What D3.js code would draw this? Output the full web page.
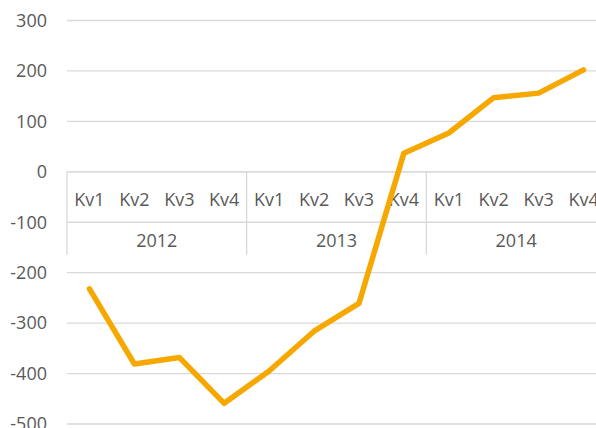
<!DOCTYPE html>
<html>
<head>
<meta charset="utf-8">
<script src="https://cdn.jsdelivr.net/npm/d3@7"></script>
<style>
  body { margin: 0; background: #fff; }
  svg { display: block; }
  text { font-family: "Open Sans", "Liberation Sans", sans-serif; fill: #595959; }
</style>
</head>
<body>
<div id="chart"></div>
<script>
// data
const years = ['2012', '2013', '2014'];
const quarters = ['Kv1', 'Kv2', 'Kv3', 'Kv4'];
const values = [-232, -381, -368, -459, -395, -316, -261, 37, 77, 147, 156, 202];
const yTicks = [300, 200, 100, 0, -100, -200, -300, -400, -500];

const w = 596, h = 428;
const padding = {left: 67, right: -10, top: 20.5, bottom: 4};

const svg = d3.select('#chart').append('svg').attr('width', w).attr('height', h);

// category keys
const cats = [];
years.forEach(y => quarters.forEach(q => cats.push(y + '|' + q)));

let xScale = d3.scaleBand().domain(cats).range([padding.left, w - padding.right]);
let yScale = d3.scaleLinear().domain([-500, 300]).range([h - padding.bottom, padding.top]);

// gridlines
svg.append('g').selectAll('line').data(yTicks).enter().append('line')
  .attr('x1', padding.left).attr('x2', w)
  .attr('y1', d => yScale(d)).attr('y2', d => yScale(d))
  .attr('stroke', '#d9d9d9').attr('stroke-width', 1.3);

// y axis labels (plain hyphen like the original)
let yaxis = d3.axisLeft(yScale).tickValues(yTicks).tickSize(0).tickPadding(20)
  .tickFormat(d => String(d));
let gy = svg.append('g').attr('transform', 'translate(' + padding.left + ',0)').call(yaxis);
gy.select('.domain').remove();
gy.selectAll('text').attr('font-size', 18).attr('fill', '#595959')
  .style('font-family', '"Open Sans", "Liberation Sans", sans-serif');

// multi-level category axis at y = 0
const y0 = yScale(0);
const bw = xScale.bandwidth();
const ax = svg.append('g');
ax.append('line').attr('x1', padding.left).attr('x2', w).attr('y1', y0).attr('y2', y0)
  .attr('stroke', '#d9d9d9').attr('stroke-width', 1.3);

// group separators
const groupEdges = years.map((y, i) => xScale(y + '|' + quarters[0]));
groupEdges.push(xScale(cats[cats.length - 1]) + bw);
ax.selectAll('line.sep').data(groupEdges).enter().append('line').attr('class', 'sep')
  .attr('x1', d => d).attr('x2', d => d)
  .attr('y1', y0).attr('y2', y0 + 83)
  .attr('stroke', '#d9d9d9').attr('stroke-width', 1.3);

ax.selectAll('text.q').data(cats).enter().append('text').attr('class', 'q')
  .attr('x', d => xScale(d) + bw / 2).attr('y', y0 + 34)
  .attr('text-anchor', 'middle').attr('font-size', 18)
  .text(d => d.split('|')[1]);

ax.selectAll('text.yr').data(years).enter().append('text').attr('class', 'yr')
  .attr('x', y => xScale(y + '|Kv1') + bw * 2).attr('y', y0 + 75)
  .attr('text-anchor', 'middle').attr('font-size', 18)
  .text(d => d);

// line
let lineg = d3.line().x((d, i) => xScale(cats[i]) + bw / 2).y(d => yScale(d));
svg.append('path').datum(values).attr('d', lineg)
  .attr('fill', 'none').attr('stroke', '#f6a800').attr('stroke-width', 5.5)
  .attr('stroke-linejoin', 'round').attr('stroke-linecap', 'round');
</script>
</body>
</html>
